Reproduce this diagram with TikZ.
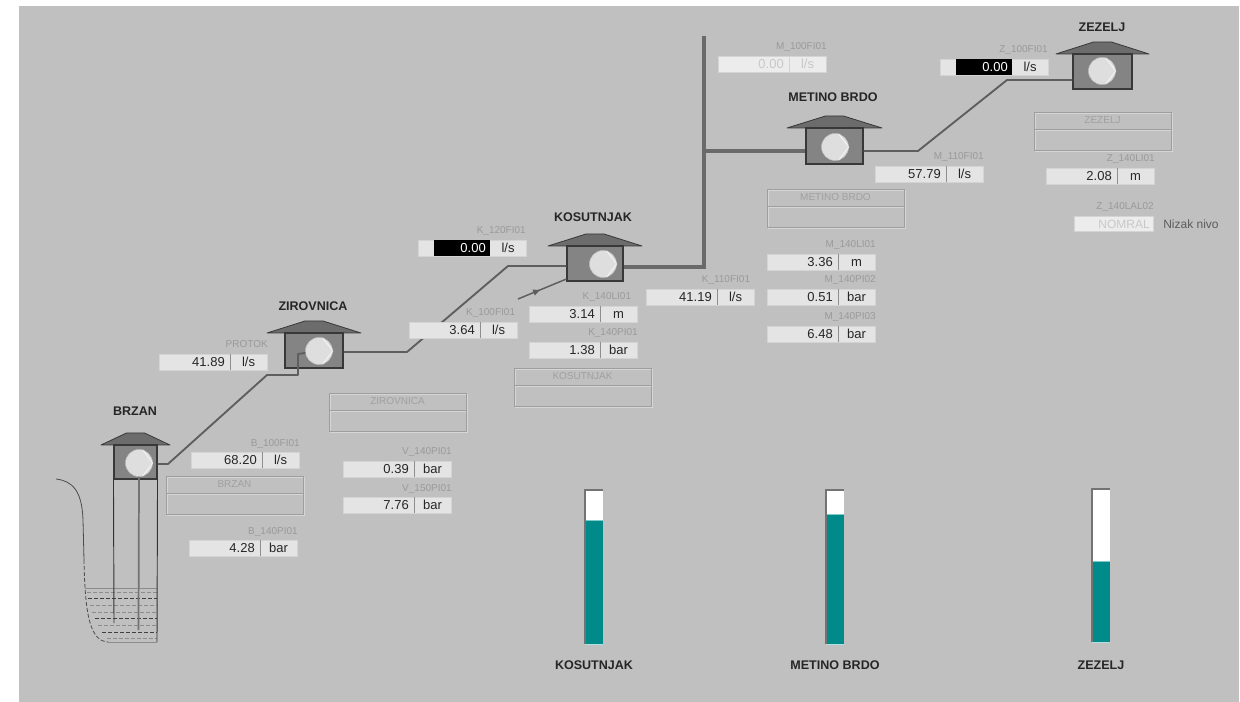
\documentclass[tikz,border=0pt]{standalone}
\usepackage{fontspec}
\setmainfont{Liberation Sans}
\usetikzlibrary{arrows.meta,decorations.markings,fit}

\definecolor{panel}{HTML}{C0C0C0}
\definecolor{roofgray}{HTML}{6C6C6C}
\definecolor{housegray}{HTML}{848484}
\definecolor{edgegray}{HTML}{383838}
\definecolor{wheelgray}{HTML}{DEDEDE}
\definecolor{pipegray}{HTML}{5E5E5E}
\definecolor{mainpipegray}{HTML}{6A6A6A}
\definecolor{fieldfill}{HTML}{E4E4E4}
\definecolor{fieldedge}{HTML}{D4D4D4}
\definecolor{fieldsepgray}{HTML}{8E8E8E}
\definecolor{tagtext}{HTML}{9A9A9A}
\definecolor{frametext}{HTML}{A0A0A0}
\definecolor{dimtext}{HTML}{C8C8C8}
\definecolor{frameedge}{HTML}{9E9E9E}
\definecolor{framelight}{HTML}{D6D6D6}
\definecolor{levelteal}{HTML}{008A8A}
\definecolor{tealedge}{HTML}{7CCCCC}
\definecolor{notetext}{HTML}{5C5C5C}

\tikzset{
  housebox/.style={draw=edgegray, fill=housegray, line width=0.8pt, inner sep=0pt},
  roof/.style={draw=edgegray, fill=roofgray, line width=0.6pt, line join=round},
  pumpwheel/.style={circle, fill=wheelgray, draw=wheelgray!85!black, line width=0.4pt,
    minimum size=20.25pt, inner sep=0pt},
  wheelmark/.style={draw=white, line width=0.6pt, opacity=0.75},
  pipe/.style={draw=pipegray, line width=1.4pt, line join=round},
  thinpipe/.style={draw=pipegray, line width=1.1pt},
  mainpipe/.style={draw=mainpipegray, line width=2.4pt, line join=miter},
  fieldbox/.style={fill=fieldfill, draw=fieldedge, line width=0.5pt},
  fieldsep/.style={draw=fieldsepgray, line width=0.5pt},
  valuetext/.style={inner sep=0pt, text height=7pt, text depth=0pt,
    font=\fontsize{9.75}{11}\selectfont, text=black!85},
  tag/.style={inner sep=0pt, font=\fontsize{7.5}{9}\selectfont, text=tagtext},
  stationtitle/.style={inner sep=0pt, font=\bfseries\fontsize{9.4}{11}\selectfont, text=black!85},
  frametitle/.style={inner sep=0pt, font=\fontsize{7.5}{9}\selectfont, text=frametext},
  wellline/.style={draw=black!70, line width=0.6pt},
  shaftline/.style={draw=black!80, line width=0.7pt},
  waterdark/.style={draw=black!75, line width=0.6pt, dash pattern=on 3pt off 1.5pt},
  waterlight/.style={draw=black!45, line width=0.6pt, dash pattern=on 3pt off 1.5pt},
  baredge/.style={draw=black!55, line width=0.8pt},
}

% pump station: name, box x1, box y1, box x2, box y2, roof overhang, wheel x, wheel y
\newcommand{\pumphouse}[8]{%
  \draw[roof] ({#2-#6},#3) -- ({(#2+#4)/2-9},{#3-12}) -- ({(#2+#4)/2+9},{#3-12})
    -- ({#4+#6},#3) -- cycle;
  \coordinate (#1-a) at (#2,#3);
  \coordinate (#1-b) at (#4,#5);
  \node[housebox, fit=(#1-a)(#1-b)] (#1) {};
  \node[pumpwheel] (#1-pump) at (#7,#8) {};
  \draw[wheelmark] (#1-pump.75) -- (#1-pump.east) -- (#1-pump.-75);
}

% measured value field: [tag options], name, x, y, value, unit, tag
\newcommand{\meter}[7][]{%
  \path[fieldbox] (#3,#4) rectangle ++(108,16);
  \draw[fieldsep] ({#3+71},#4) -- ++(0,16);
  \node[valuetext, anchor=east] (#2-value) at ({#3+66},{#4+8}) {#5};
  \node[valuetext] (#2-unit) at ({#3+89.5},{#4+8}) {#6};
  \node[tag, anchor=base east, #1] (#2-tag) at ({#3+109},{#4-6}) {#7};
}

% disabled value field: name, x, y, value, unit, tag
\newcommand{\dimmeter}[6]{%
  \path[fieldbox, fill=fieldfill!70!white] (#2,#3) rectangle ++(108,16);
  \draw[fieldsep, draw=fieldedge] ({#2+71},#3) -- ++(0,16);
  \node[valuetext, anchor=east, text=dimtext] (#1-value) at ({#2+66},{#3+8}) {#4};
  \node[valuetext, text=dimtext] (#1-unit) at ({#2+89.5},{#3+8}) {#5};
  \node[tag, anchor=base east] (#1-tag) at ({#2+109},{#3-6}) {#6};
}

% flow field with alarm cell: name, x, y, value, tag
\newcommand{\flowalarm}[5]{%
  \path[fieldbox] (#2,#3) rectangle ++(108,16);
  \fill[black] ({#2+16},#3) rectangle ++(56,16);
  \node[valuetext, anchor=east, text=white] (#1-value) at ({#2+68},{#3+8}) {#4};
  \node[valuetext] (#1-unit) at ({#2+90},{#3+8}) {l/s};
  \node[tag, anchor=base east] (#1-tag) at ({#2+108},{#3-6}) {#5};
}

% status frame: name, x, y, title
\newcommand{\infopanel}[4]{%
  \draw[framelight, line width=0.6pt] ({#2+1},{#3+1}) rectangle ++(137,38);
  \draw[framelight, line width=0.6pt] ({#2+1},{#3+18}) -- ++(137,0);
  \draw[frameedge, line width=0.6pt] (#2,#3) rectangle ++(137,38);
  \draw[frameedge, line width=0.6pt] (#2,{#3+17}) -- ++(137,0);
  \node[frametitle] (#1) at ({#2+68.5},{#3+8.5}) {#4};
}

% reservoir level bar: name, x, top, level, bottom, title
\newcommand{\levelbar}[6]{%
  \fill[white] (#2,#3) rectangle ({#2+18},#5);
  \fill[levelteal] (#2,#4) rectangle ({#2+18},#5);
  \draw[tealedge, line width=0.6pt] (#2,#4) -- ++(18,0);
  \draw[tealedge!60!white, line width=0.6pt] (#2,#5) -- ++(18,0);
  \draw[baredge] (#2,#5) -- (#2,#3) -- ({#2+18},#3);
  \node[stationtitle] (#1) at ({#2+9},665) {#6};
}

\begin{document}
\begin{tikzpicture}[x=0.75pt, y=-0.75pt]
\useasboundingbox (0,0) rectangle (1240,702);
\fill[white] (0,0) rectangle (1240,702);
\fill[panel] (19,6) rectangle (1239,702);

% well basin below BRZAN
\draw[wellline] (56,479) .. controls (72,481) and (82,490) .. (83,520) -- (84,560);
\draw[wellline, dash pattern=on 3pt off 1.5pt] (84,560) .. controls (85,615) and (90,641) .. (108,642);
\draw[wellline, draw=black!45] (108,642) -- (157,642);
\draw[wellline, draw=black!45] (85,588) -- (157,588);
\foreach \yy/\xx/\st in {592/87/waterlight, 598/88/waterdark, 605/90/waterlight,
  612/92/waterlight, 618/95/waterdark, 625/98/waterlight, 632/102/waterdark, 638/107/waterlight}
  \draw[\st] (\xx,\yy) -- (157,\yy);

% stations
\pumphouse{brzan}{114}{445}{157}{479}{13}{139}{463}
\pumphouse{ziro}{285}{333}{343}{368}{18}{319}{351}
\pumphouse{kos}{567}{246}{623}{281}{19}{603}{264}
\pumphouse{metino}{806}{128}{863}{164}{19}{835}{147}
\pumphouse{zezelj}{1073}{54}{1132}{89}{17}{1102}{71}

% well shaft and suction pipe
\draw[shaftline] (brzan.south west) -- (114,623);
\draw[shaftline] (brzan.south east) -- (157,642);
\draw[draw=black!55, line width=1.3pt] (brzan-pump.south) -- (138.5,630);

% pipeline
\coordinate (b1) at (168,464);
\coordinate (b2) at (267,375);
\coordinate (b3) at (298,375);
\coordinate (b4) at (298,354);
\draw[pipe] (brzan.east |- b1) -- (b1) -- (b2) -- (b3) -- (b4) -- (ziro-pump);

\coordinate (z1) at (407,352);
\coordinate (z2) at (508,266);
\draw[pipe] (ziro.east |- z1) -- (z1) -- (z2) -- (kos.west |- z2);

\coordinate (kin) at (518,299);
\coordinate (kend) at (567,279);
\draw[thinpipe, postaction={decorate, decoration={markings,
  mark=at position 0.45 with {\arrow{Triangle[length=5pt,width=4.5pt]}}}}] (kin) -- (kos.west |- kend);

\coordinate (vlow) at (704,267);
\coordinate (vtop) at (704,36);
\coordinate (vmid) at (704,151);
\draw[mainpipe] (kos.east |- vlow) -- (vlow) -- (vtop);
\draw[mainpipe] (vmid) -- (metino.west |- vmid);

\coordinate (m1) at (918,151);
\coordinate (m2) at (1007,80);
\draw[pipe] (metino.east |- m1) -- (m1) -- (m2) -- (zezelj.west |- m2);

% station titles
\node[stationtitle] (t-brzan) at (135,411) {BRZAN};
\node[stationtitle] (t-ziro) at (313,306) {ZIROVNICA};
\node[stationtitle] (t-kos) at (593,217) {KOSUTNJAK};
\node[stationtitle] (t-metino) at (833,97) {METINO BRDO};
\node[stationtitle] (t-zezelj) at (1102,27) {ZEZELJ};

% status frames
\infopanel{f-brzan}{166}{476}{BRZAN}
\infopanel{f-ziro}{329}{393}{ZIROVNICA}
\infopanel{f-kos}{514}{368}{KOSUTNJAK}
\infopanel{f-metino}{767}{189}{METINO BRDO}
\infopanel{f-zezelj}{1034}{112}{ZEZELJ}

% measurements
\meter{protok}{159}{354}{41.89}{l/s}{PROTOK}
\meter{b100}{191}{452}{68.20}{l/s}{B\_100FI01}
\meter{b140}{189}{540}{4.28}{bar}{B\_140PI01}
\meter{v140}{343}{461}{0.39}{bar}{V\_140PI01}
\meter{v150}{343}{497}{7.76}{bar}{V\_150PI01}
\meter[xshift=-2pt]{k100}{409}{322}{3.64}{l/s}{K\_100FI01}
\meter[xshift=-5pt]{k140l}{529}{306}{3.14}{m}{K\_140LI01}
\meter{k140p}{529}{342}{1.38}{bar}{K\_140PI01}
\meter[xshift=-3.5pt]{k110}{646}{289}{41.19}{l/s}{K\_110FI01}
\meter{m140l}{767}{254}{3.36}{m}{M\_140LI01}
\meter{m140p2}{767}{289}{0.51}{bar}{M\_140PI02}
\meter{m140p3}{767}{326}{6.48}{bar}{M\_140PI03}
\meter{m110}{875}{166}{57.79}{l/s}{M\_110FI01}
\meter{z140l}{1046}{168}{2.08}{m}{Z\_140LI01}
\dimmeter{m100}{718}{56}{0.00}{l/s}{M\_100FI01}
\flowalarm{k120}{418}{240}{0.00}{K\_120FI01}
\flowalarm{z100}{940}{59}{0.00}{Z\_100FI01}

% level alarm
\path[fieldbox, fill=fieldfill!70!white] (1074,216) rectangle (1153,231);
\node[valuetext, anchor=east, text=dimtext, font=\fontsize{9}{11}\selectfont] (zlal-value) at (1150,223.5) {NOMRAL};
\node[tag, anchor=base east] (zlal-tag) at (1154,210) {Z\_140LAL02};
\node[inner sep=0pt, anchor=west, text=notetext, font=\fontsize{9}{11}\selectfont] (zlal-note) at (1163,224) {Nizak nivo};

% reservoir levels
\levelbar{lv-kos}{585}{490}{520}{644}{KOSUTNJAK}
\levelbar{lv-metino}{826}{490}{514}{644}{METINO BRDO}
\levelbar{lv-zezelj}{1092}{489}{561}{642}{ZEZELJ}
\end{tikzpicture}
\end{document}
